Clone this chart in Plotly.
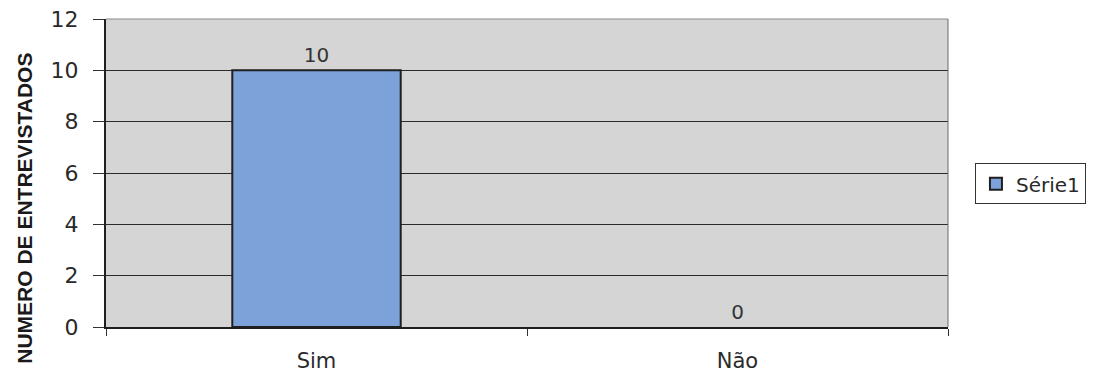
import plotly.graph_objects as go

# Survey answers
categories = ["Sim", "Não"]
respondents = [10, 0]
series_name = "Série1"
y_ticks = [0, 2, 4, 6, 8, 10, 12]

BODY_FONT = "DejaVu Sans, Verdana, sans-serif"

fig = go.Figure()
fig.add_trace(go.Bar(
    x=categories,
    y=respondents,
    name=series_name,
    width=0.4,
    marker=dict(color="#7da1d9",
                line=dict(color="#1f1f1f", width=[2 if v > 0 else 0 for v in respondents])),
    text=[str(v) for v in respondents],
    textposition="outside",
    textfont=dict(family=BODY_FONT, size=20, color="#333333"),
    cliponaxis=False,
    showlegend=True,
))

fig.update_layout(
    width=1099,
    height=372,
    margin=dict(l=106, r=151, t=19, b=45),
    paper_bgcolor="white",
    plot_bgcolor="#d5d5d5",
    font=dict(family=BODY_FONT, color="#2a2a2a"),
    showlegend=True,
    legend=dict(
        x=1.032, y=0.465, xanchor="left", yanchor="middle",
        bordercolor="#333333", borderwidth=1,
        bgcolor="white",
        font=dict(family=BODY_FONT, size=20, color="#2a2a2a"),
        itemwidth=30,
        tracegroupgap=0,
    ),
    bargap=0.6,
)

fig.update_xaxes(
    type="category",
    automargin=False,
    showgrid=False,
    showline=True, linecolor="#1f1f1f", linewidth=2,
    ticks="outside", tickson="boundaries", ticklen=7, tickcolor="#333333",
    tickfont=dict(family=BODY_FONT, size=21, color="#2a2a2a"),
    ticklabelstandoff=14,
    mirror=False,
)
fig.update_yaxes(
    range=[0, 12],
    automargin=False,
    tickvals=y_ticks,
    showgrid=True, gridcolor="#2b2b2b", gridwidth=1,
    showline=True, linecolor="#1f1f1f", linewidth=2,
    ticks="outside", ticklen=11, tickcolor="#333333",
    tickfont=dict(family=BODY_FONT, size=22, color="#2a2a2a"),
    ticklabelstandoff=10,
    zeroline=False,
)

# thin frame on the top and right of the plot area
fig.add_shape(type="line", xref="paper", yref="paper", x0=0, x1=1, y0=1, y1=1,
              line=dict(color="#8a8a8a", width=1))
fig.add_shape(type="line", xref="paper", yref="paper", x0=1, x1=1, y0=0, y1=1,
              line=dict(color="#6a6a6a", width=1))

# vertical axis title
fig.add_annotation(
    text="<b>NUMERO DE ENTREVISTADOS</b>",
    xref="paper", yref="paper",
    x=-0.097, y=0.385, xanchor="center", yanchor="middle",
    textangle=-90, showarrow=False,
    font=dict(family="Liberation Sans Narrow, Arial Narrow, Liberation Sans, Arial, sans-serif",
              size=21, color="#1a1a1a"),
)

fig.write_html("out.html")
